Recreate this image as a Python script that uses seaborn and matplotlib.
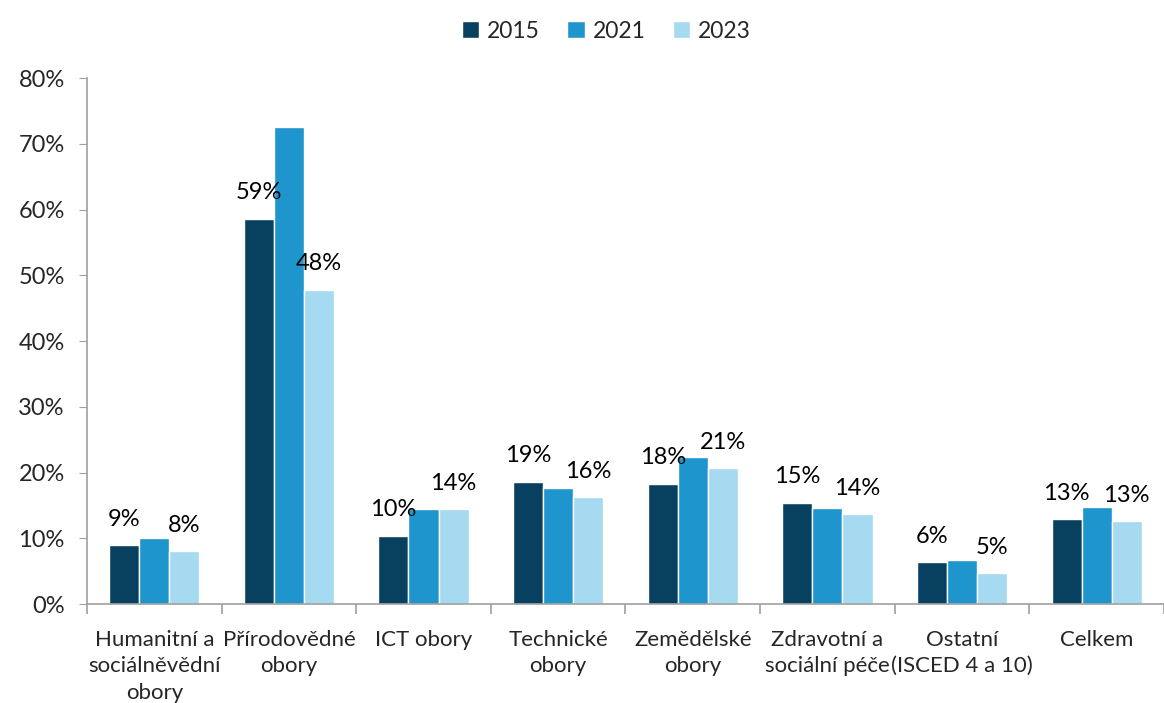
import numpy as np
import pandas as pd
import matplotlib
matplotlib.use("Agg")
import matplotlib.pyplot as plt
import seaborn as sns
from matplotlib.ticker import PercentFormatter, FixedLocator

categories = ["Humanitní a\nsociálněvědní\nobory", "Přírodovědné\nobory", "ICT obory",
              "Technické\nobory", "Zemědělské\nobory", "Zdravotní a\nsociální péče",
              "Ostatní\n(ISCED 4 a 10)", "Celkem"]
years = ["2015", "2021", "2023"]
v2015 = [0.090, 0.586, 0.104, 0.186, 0.183, 0.154, 0.064, 0.129]
v2021 = [0.101, 0.725, 0.144, 0.176, 0.224, 0.146, 0.067, 0.148]
v2023 = [0.080, 0.478, 0.144, 0.163, 0.207, 0.137, 0.047, 0.126]
colors = ["#08415f", "#1f95cd", "#a6daf1"]

df = pd.DataFrame({
    "obor": categories * 3,
    "rok": [y for y in years for _ in categories],
    "podil": v2015 + v2021 + v2023,
})

sns.set_style("white")
plt.rcParams['font.family'] = ['Lato', 'DejaVu Sans']

fig = plt.figure(figsize=(11.64, 7.03), dpi=100)
ax = fig.add_axes([0.0747, 0.1408, 0.9253, 0.7482])

sns.barplot(data=df, x="obor", y="podil", hue="rok", palette=colors,
            width=0.67, gap=0, saturation=1, ax=ax, legend=True)

# labels only for 2015 and 2023
for i in (0, 2):
    cont = ax.containers[i]
    ax.bar_label(cont, labels=[f"{v*100:.0f}%" for v in cont.datavalues],
                 padding=11, fontsize=17, color="black")

ax.set_ylim(0, 0.8)
ax.set_xlim(-0.5, len(categories) - 0.5)
ax.yaxis.set_major_formatter(PercentFormatter(1.0, decimals=0))
ax.set_yticks(np.arange(0, 0.81, 0.1))
ax.set_xlabel("")
ax.set_ylabel("")

for s in ("top", "right"):
    ax.spines[s].set_visible(False)
for s in ("left", "bottom"):
    ax.spines[s].set_color("#a0a0a0")
    ax.spines[s].set_linewidth(1.2)

ax.tick_params(axis="y", labelsize=17, left=True, length=6, color="#a0a0a0", pad=10)
ax.tick_params(axis="x", which="major", labelsize=16, bottom=False, pad=15)
ax.xaxis.set_minor_locator(FixedLocator(np.arange(-0.5, len(categories), 1.0)))
ax.tick_params(axis="x", which="minor", bottom=True, length=7, color="#a0a0a0", width=1.2)
for lbl in ax.get_xticklabels():
    lbl.set_linespacing(1.4)

leg = ax.get_legend()
handles, labels = ax.get_legend_handles_labels()
leg.remove()
fig.legend(handles, labels, loc="upper center", bbox_to_anchor=(0.521, 1.0), ncol=3,
           frameon=False, fontsize=16.5, handlelength=0.75, handleheight=0.75,
           handletextpad=0.35, columnspacing=1.2)

fig.savefig("out.png", dpi=100)
